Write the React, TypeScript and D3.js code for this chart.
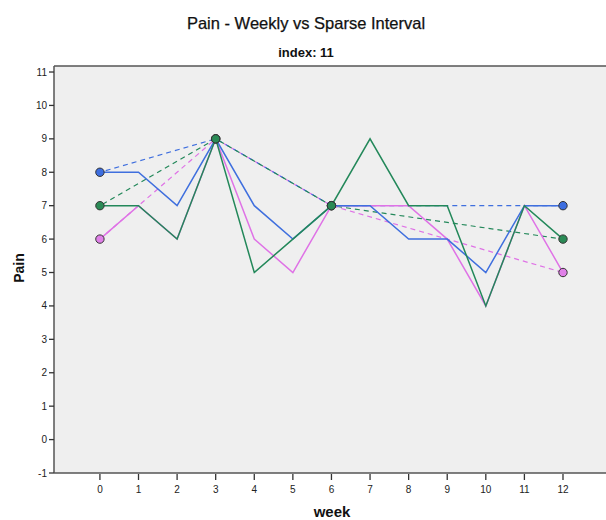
import * as d3 from 'd3';

const weeks = [0, 1, 2, 3, 4, 5, 6, 7, 8, 9, 10, 11, 12];
const sparseWeeks = [0, 3, 6, 12];

// weekly values per series
const blueWeekly = [8, 8, 7, 9, 7, 6, 7, 7, 6, 6, 5, 7, 7];
const magentaWeekly = [6, 7, 6, 9, 6, 5, 7, 7, 7, 6, 4, 7, 5];
const greenWeekly = [7, 7, 6, 9, 5, 6, 7, 9, 7, 7, 4, 7, 6];

// sparse interval values (weeks 0, 3, 6, 12)
const blueSparse = [8, 9, 7, 7];
const magentaSparse = [6, 9, 7, 5];
const greenSparse = [7, 9, 7, 6];

const yTicks = [-1, 0, 1, 2, 3, 4, 5, 6, 7, 8, 9, 10, 11];

const series = [
  { name: 'magenta', weekly: magentaWeekly, sparse: magentaSparse, color: '#df72e6', fill: '#e080e8' },
  { name: 'blue', weekly: blueWeekly, sparse: blueSparse, color: '#3f6fde', fill: '#3d6ee0' },
  { name: 'green', weekly: greenWeekly, sparse: greenSparse, color: '#23885a', fill: '#2a8a55' },
];

export default function App() {
  const width = 606;
  const height = 520;
  const left = 54;
  const right = 612;
  const top = 66;
  const bottom = 473;

  const x = d3.scaleLinear().domain([-1.19, 13.27]).range([left, right]);
  const y = d3.scaleLinear().domain([-1, 11.18]).range([bottom, top]);

  const line = d3
    .line<[number, number]>()
    .x(d => x(d[0]))
    .y(d => y(d[1]));

  const font = '"Liberation Sans", Arial, sans-serif';

  return (
    <svg
      width={width}
      height={height}
      style={{ position: 'absolute', left: 0, top: 0, background: '#fff' }}
      fontFamily={font}
    >
      <text x={306} y={29} textAnchor="middle" fontSize={16.5} fill="#111" stroke="#111" strokeWidth={0.25}>
        Pain - Weekly vs Sparse Interval
      </text>
      <text x={306} y={57} textAnchor="middle" fontSize={13} fontWeight="bold" fill="#111">
        index: 11
      </text>

      {/* plot background */}
      <rect x={left} y={top} width={right - left} height={bottom - top} fill="#efefef" />
      <line x1={left} x2={right} y1={top} y2={top} stroke="#555" strokeWidth={1.3} />

      {/* dashed sparse series */}
      {series.map((s, i) => (
        <path
          key={'d' + s.name}
          d={line(sparseWeeks.map((w, j) => [w, s.sparse[j]]))!}
          fill="none"
          stroke={s.color}
          strokeWidth={1.2}
          strokeDasharray="5,4"
          strokeDashoffset={i * 3}
        />
      ))}

      {/* weekly series */}
      {series.map(s => (
        <path
          key={'w' + s.name}
          d={line(weeks.map((w, j) => [w, s.weekly[j]]))!}
          fill="none"
          stroke={s.color}
          strokeWidth={1.5}
        />
      ))}

      {/* markers */}
      {series.map(s =>
        sparseWeeks.map((w, j) => (
          <circle
            key={'m' + s.name + w}
            cx={x(w)}
            cy={y(s.sparse[j])}
            r={4.2}
            fill={s.fill}
            stroke="#333"
            strokeWidth={1}
          />
        ))
      )}

      {/* y axis */}
      <line x1={left} x2={left} y1={top} y2={bottom} stroke="#555" strokeWidth={1.5} />
      {yTicks.map(t => (
        <g key={'y' + t}>
          <line x1={left - 5} x2={left} y1={y(t)} y2={y(t)} stroke="#333" strokeWidth={1.3} />
          <text x={left - 7} y={y(t) + 3.5} textAnchor="end" fontSize={10} fill="#222">
            {t}
          </text>
        </g>
      ))}

      {/* x axis */}
      <line x1={left} x2={right} y1={bottom} y2={bottom} stroke="#555" strokeWidth={1.5} />
      {weeks.map(t => (
        <g key={'x' + t}>
          <line x1={x(t)} x2={x(t)} y1={bottom + 1} y2={bottom + 7} stroke="#333" strokeWidth={1.3} />
          <text x={x(t)} y={bottom + 20} textAnchor="middle" fontSize={10} fill="#222">
            {t}
          </text>
        </g>
      ))}

      <text x={332} y={517} textAnchor="middle" fontSize={15} fontWeight="bold" fill="#111">
        week
      </text>
      <text
        transform={`translate(24, 268) rotate(-90)`}
        textAnchor="middle"
        fontSize={14}
        fontWeight="bold"
        fill="#111"
      >
        Pain
      </text>
    </svg>
  );
}
